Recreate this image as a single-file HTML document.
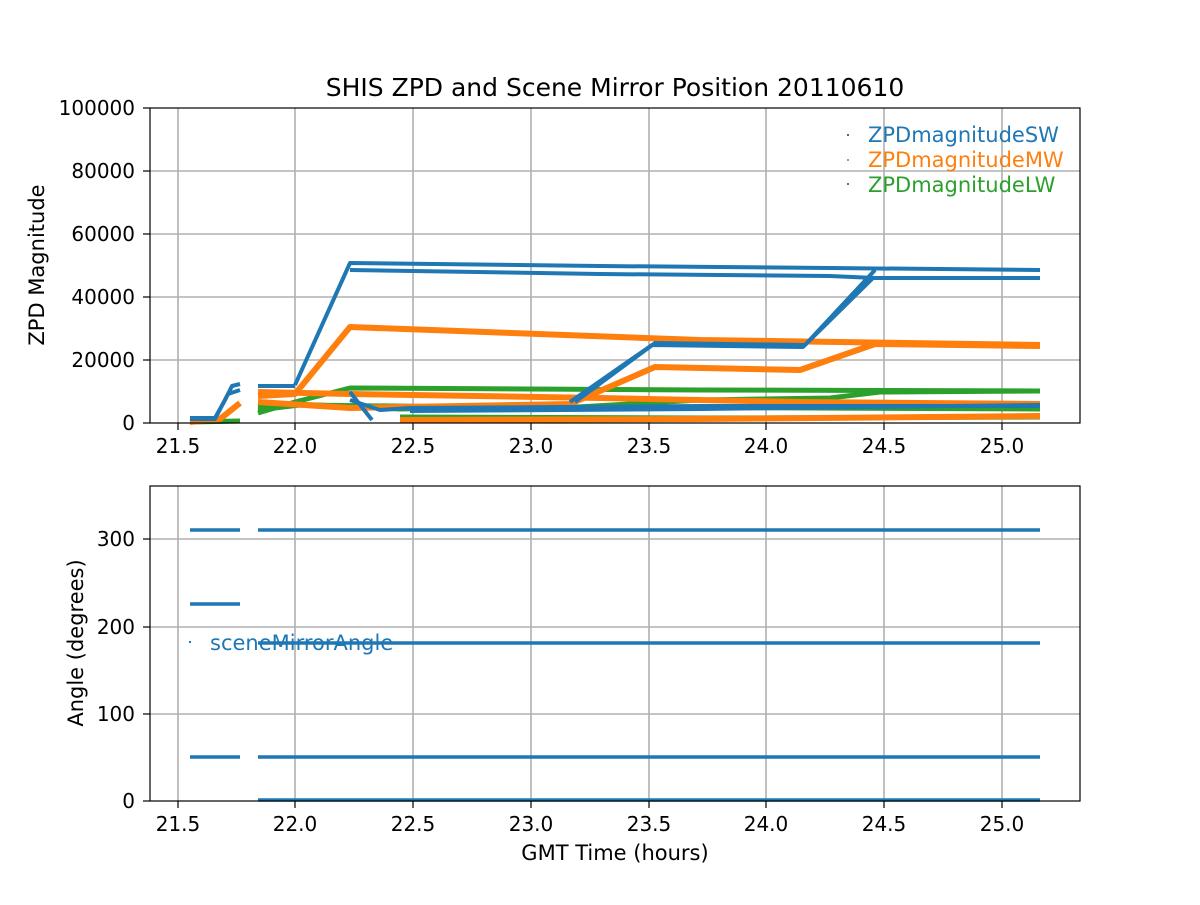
<!DOCTYPE html>
<html><head><meta charset="utf-8"><style>
body{margin:0;background:#fff}
svg text{font-family:"DejaVu Sans","Liberation Sans",sans-serif;font-size:20px;fill:#000}
</style></head><body>
<svg width="1200" height="900" viewBox="0 0 1200 900" xmlns="http://www.w3.org/2000/svg">
<rect width="1200" height="900" fill="#fff"/>
<g stroke="#b0b0b0" stroke-width="1.6">
<line x1="178" y1="108" x2="178" y2="423"/><line x1="295" y1="108" x2="295" y2="423"/><line x1="413" y1="108" x2="413" y2="423"/><line x1="531" y1="108" x2="531" y2="423"/><line x1="649" y1="108" x2="649" y2="423"/><line x1="766" y1="108" x2="766" y2="423"/><line x1="884" y1="108" x2="884" y2="423"/><line x1="1002" y1="108" x2="1002" y2="423"/>
<line x1="150" y1="360" x2="1080" y2="360"/><line x1="150" y1="297" x2="1080" y2="297"/><line x1="150" y1="234" x2="1080" y2="234"/><line x1="150" y1="171" x2="1080" y2="171"/>
<line x1="178" y1="486" x2="178" y2="801"/><line x1="295" y1="486" x2="295" y2="801"/><line x1="413" y1="486" x2="413" y2="801"/><line x1="531" y1="486" x2="531" y2="801"/><line x1="649" y1="486" x2="649" y2="801"/><line x1="766" y1="486" x2="766" y2="801"/><line x1="884" y1="486" x2="884" y2="801"/><line x1="1002" y1="486" x2="1002" y2="801"/>
<line x1="150" y1="714" x2="1080" y2="714"/><line x1="150" y1="627" x2="1080" y2="627"/><line x1="150" y1="539" x2="1080" y2="539"/>
</g>
<g fill="none" stroke-linejoin="round">
<g stroke="#2ca02c" stroke-width="5">
<polyline points="258,413 295,402 350,388 700,390 1040,391"/>
<polyline points="258,410 300,405 560,408 700,400 830,398 880,392 1040,391"/>
<polyline points="258,407 295,404 400,409 600,407 1040,409"/>
<polyline points="400,417 700,418 1040,417"/>
<polyline points="190,422 240,421"/>
</g>
<g stroke="#ff7f0e" stroke-width="6">
<polyline points="258,396 295,394 350,327 700,340 1040,345"/>
<polyline points="258,402 350,408 570,404 655,367 800,370 875,344 1040,346"/>
<polyline points="258,392 350,394 600,398 800,402 1040,404"/>
<polyline points="400,420 700,419 1040,416"/>
<polyline points="190,422 220,419 240,403"/>
</g>
<g stroke="#1f77b4" stroke-width="4">
<polyline points="295,385 350,263 600,266 830,268 1040,270"/>
<polyline points="350,270 600,274 830,276 875,278 1040,278"/>
<polyline points="575,402 655,343 805,345 875,270"/>
<polyline points="570,402 652,345 803,347 873,278"/>
<polyline points="190,418 215,418 225,400 232,386 240,384"/>
<polyline points="190,419 215,419 228,394 240,390"/>
<polyline points="258,386 295,386"/>
<polyline points="350,400 380,410 410,408 700,406 1040,406"/>
<polyline points="410,411 700,409 1040,405"/>
<polyline points="350,392 372,420"/>
</g>
</g>
<g stroke="#1f77b4" stroke-width="3.5">
<line x1="190" y1="530" x2="240" y2="530"/><line x1="258" y1="530" x2="1040" y2="530"/>
<line x1="190" y1="604" x2="240" y2="604"/>
<line x1="258" y1="643" x2="1040" y2="643"/>
<line x1="190" y1="757" x2="240" y2="757"/><line x1="258" y1="757" x2="1040" y2="757"/>
<line x1="258" y1="800" x2="1040" y2="800"/>
</g>
<rect x="150" y="108" width="930" height="315" fill="none" stroke="#000" stroke-width="1.2"/>
<rect x="150" y="486" width="930" height="315" fill="none" stroke="#000" stroke-width="1.2"/>
<g stroke="#000" stroke-width="1.2">
<line x1="178" y1="423" x2="178" y2="430"/><line x1="295" y1="423" x2="295" y2="430"/><line x1="413" y1="423" x2="413" y2="430"/><line x1="531" y1="423" x2="531" y2="430"/><line x1="649" y1="423" x2="649" y2="430"/><line x1="766" y1="423" x2="766" y2="430"/><line x1="884" y1="423" x2="884" y2="430"/><line x1="1002" y1="423" x2="1002" y2="430"/>
<line x1="178" y1="801" x2="178" y2="808"/><line x1="295" y1="801" x2="295" y2="808"/><line x1="413" y1="801" x2="413" y2="808"/><line x1="531" y1="801" x2="531" y2="808"/><line x1="649" y1="801" x2="649" y2="808"/><line x1="766" y1="801" x2="766" y2="808"/><line x1="884" y1="801" x2="884" y2="808"/><line x1="1002" y1="801" x2="1002" y2="808"/>
<line x1="143" y1="423" x2="150" y2="423"/><line x1="143" y1="360" x2="150" y2="360"/><line x1="143" y1="297" x2="150" y2="297"/><line x1="143" y1="234" x2="150" y2="234"/><line x1="143" y1="171" x2="150" y2="171"/><line x1="143" y1="108" x2="150" y2="108"/>
<line x1="143" y1="801" x2="150" y2="801"/><line x1="143" y1="714" x2="150" y2="714"/><line x1="143" y1="627" x2="150" y2="627"/><line x1="143" y1="539" x2="150" y2="539"/>
</g>
<g text-anchor="middle">
<text x="178" y="453">21.5</text><text x="295" y="453">22.0</text><text x="413" y="453">22.5</text><text x="531" y="453">23.0</text><text x="649" y="453">23.5</text><text x="766" y="453">24.0</text><text x="884" y="453">24.5</text><text x="1002" y="453">25.0</text>
<text x="178" y="831">21.5</text><text x="295" y="831">22.0</text><text x="413" y="831">22.5</text><text x="531" y="831">23.0</text><text x="649" y="831">23.5</text><text x="766" y="831">24.0</text><text x="884" y="831">24.5</text><text x="1002" y="831">25.0</text>
</g>
<g text-anchor="end">
<text x="135" y="430">0</text><text x="135" y="367">20000</text><text x="135" y="304">40000</text><text x="135" y="241">60000</text><text x="135" y="178">80000</text><text x="135" y="115">100000</text>
<text x="135" y="808">0</text><text x="135" y="721">100</text><text x="135" y="634">200</text><text x="135" y="546">300</text>
</g>
<text x="615" y="96" text-anchor="middle" style="font-size:25px">SHIS ZPD and Scene Mirror Position 20110610</text>
<text x="615" y="860" text-anchor="middle" style="font-size:21px">GMT Time (hours)</text>
<text transform="translate(44,265) rotate(-90)" text-anchor="middle" style="font-size:21px">ZPD Magnitude</text>
<text transform="translate(83,643) rotate(-90)" text-anchor="middle" style="font-size:21px">Angle (degrees)</text>
<rect x="847" y="134" width="2" height="2" fill="#1f77b4"/><text x="868" y="142" style="fill:#1f77b4;font-size:21px">ZPDmagnitudeSW</text>
<rect x="847" y="159" width="2" height="2" fill="#ff7f0e"/><text x="868" y="167" style="fill:#ff7f0e;font-size:21px">ZPDmagnitudeMW</text>
<rect x="847" y="183" width="2" height="2" fill="#2ca02c"/><text x="868" y="192" style="fill:#2ca02c;font-size:21px">ZPDmagnitudeLW</text>
<rect x="189" y="641" width="2" height="2" fill="#1f77b4"/><text x="210" y="650" style="fill:#1f77b4;font-size:21px">sceneMirrorAngle</text>
</svg>
</body></html>
